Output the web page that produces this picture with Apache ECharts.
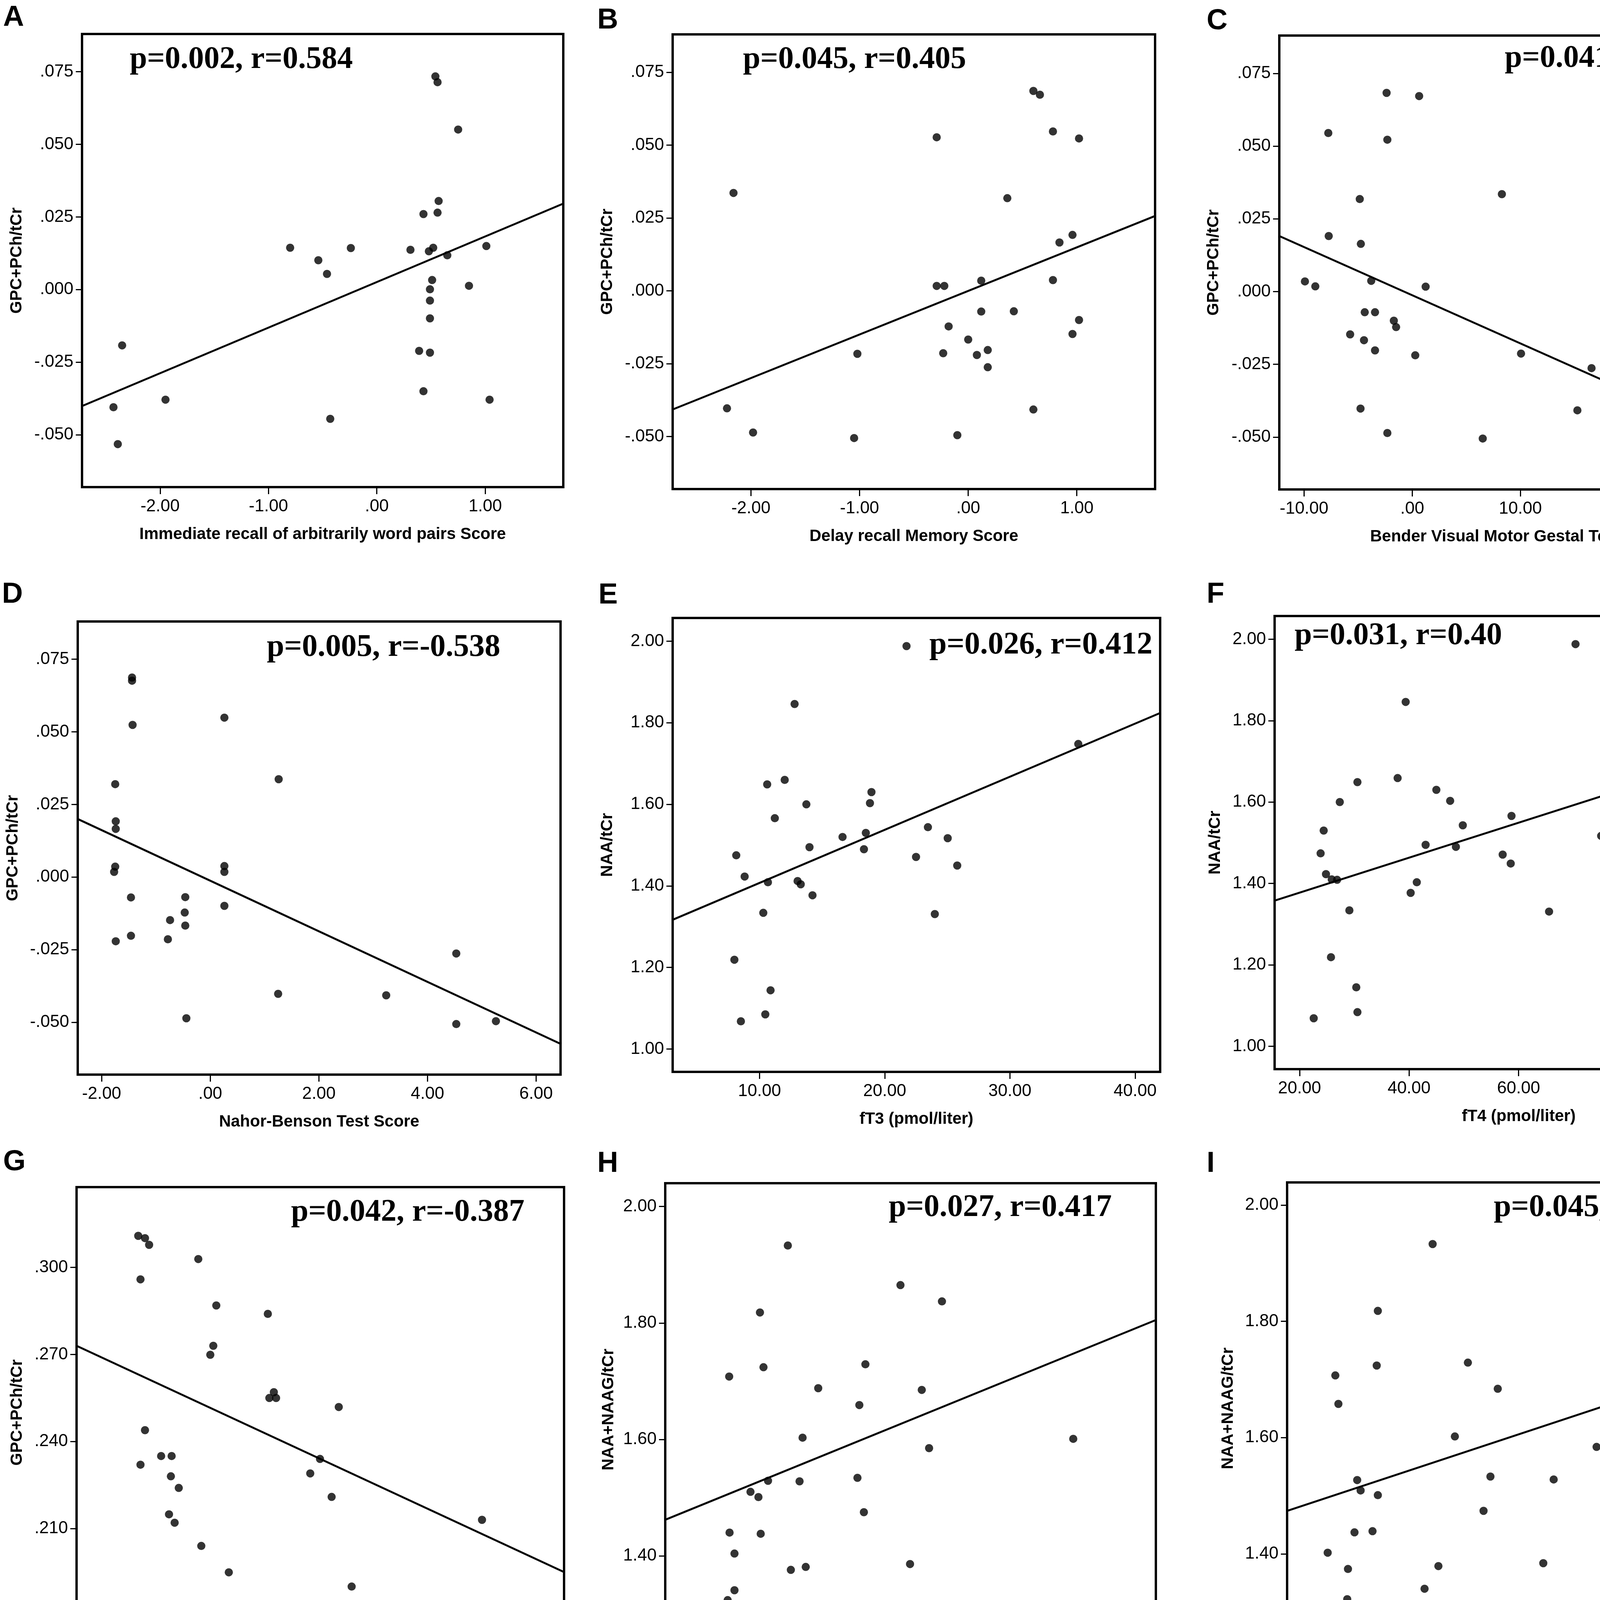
<!DOCTYPE html>
<html>
<head>
<meta charset="utf-8">
<script src="https://cdn.jsdelivr.net/npm/echarts@6/dist/echarts.min.js"></script>
<style>html,body{margin:0;padding:0;background:#fff;}#c{width:4550px;height:4368px;}</style>
</head>
<body>
<div id="c"></div>
<script>
// ---------------- DATA ----------------
const ptsA = [[0.54,0.0734],[0.56,0.0714],[0.75,0.0551],[0.57,0.0305],[0.43,0.0260],[0.56,0.0265],
[-0.80,0.0144],[-0.54,0.0101],[-0.46,0.0054],[-0.24,0.0143],[0.31,0.0137],[0.48,0.0132],
[0.52,0.0144],[0.65,0.0118],[1.01,0.0150],[0.51,0.0033],[0.49,0.0001],[0.49,-0.0038],
[0.49,-0.0099],[0.85,0.0013],[0.39,-0.0211],[0.49,-0.0217],[0.43,-0.0350],[1.04,-0.0379],
[-2.35,-0.0192],[-2.43,-0.0405],[-1.95,-0.0379],[-2.39,-0.0532],[-0.43,-0.0445]];
const fitA = [[-2.72,-0.0401],[1.72,0.0296]];

const ptsB = [[0.60,0.0686],[0.66,0.0673],[-0.29,0.0527],[0.78,0.0547],[1.02,0.0523],[-2.16,0.0336],
[0.36,0.0318],[0.96,0.0192],[0.84,0.0166],[-0.29,0.0017],[-0.22,0.0017],[0.12,0.0035],[0.78,0.0037],
[0.12,-0.0071],[0.42,-0.0070],[1.02,-0.0100],[-0.18,-0.0122],[0.96,-0.0148],[0.00,-0.0167],
[0.18,-0.0203],[-1.02,-0.0216],[-0.23,-0.0214],[0.08,-0.0220],[0.18,-0.0262],[-2.22,-0.0403],
[0.60,-0.0407],[-1.98,-0.0486],[-1.05,-0.0505],[-0.10,-0.0495]];
const fitB = [[-2.72,-0.0407],[1.72,0.0257]];

const ptsC = [[-2.37,0.0683],[0.64,0.0672],[-7.76,0.0545],[-2.30,0.0522],[-4.85,0.0318],[8.29,0.0335],
[-7.72,0.0191],[-4.75,0.0164],[-9.92,0.0035],[-8.96,0.0018],[-3.79,0.0037],[1.24,0.0017],
[-4.39,-0.0071],[-3.44,-0.0071],[-1.70,-0.0100],[-1.49,-0.0122],[-5.74,-0.0147],[-4.46,-0.0167],
[-3.44,-0.0202],[0.28,-0.0219],[10.06,-0.0213],[16.58,-0.0263],[-4.78,-0.0402],[15.27,-0.0408],
[-2.30,-0.0486],[6.52,-0.0505],[24.30,-0.0495]];
const fitC = [[-12.29,0.0191],[32.35,-0.0548]];

const ptsD = [[-1.44,0.0687],[-1.44,0.0676],[-1.43,0.0524],[0.26,0.0549],[-1.75,0.0320],[1.26,0.0337],
[-1.74,0.0192],[-1.74,0.0166],[-1.75,0.0036],[-1.77,0.0018],[0.26,0.0038],[0.26,0.0018],
[-1.46,-0.0070],[-0.46,-0.0069],[0.26,-0.0099],[-0.47,-0.0122],[-0.74,-0.0148],[-0.46,-0.0167],
[-1.46,-0.0202],[-0.78,-0.0214],[-1.74,-0.0221],[4.53,-0.0263],[1.25,-0.0402],[3.24,-0.0407],
[-0.44,-0.0486],[4.53,-0.0506],[5.26,-0.0496]];
const fitD = [[-2.44,0.0200],[6.45,-0.0574]];

const ptsE = [[21.74,1.988],[12.80,1.846],[35.46,1.748],[10.61,1.649],[12.01,1.660],[18.94,1.630],
[13.74,1.600],[18.82,1.603],[11.22,1.566],[16.63,1.520],[18.49,1.530],[23.45,1.544],[25.03,1.517],
[13.99,1.495],[18.34,1.490],[22.50,1.471],[25.79,1.450],[8.14,1.475],[8.81,1.423],[10.67,1.409],
[13.04,1.412],[13.29,1.404],[14.23,1.377],[10.30,1.334],[24.00,1.331],[7.99,1.219],[10.88,1.144],
[10.46,1.085],[8.51,1.068]];
const fitE = [[3.06,1.317],[42.0,1.824]];

const ptsF = [[70.39,1.988],[39.38,1.846],[84.38,1.748],[37.91,1.659],[30.57,1.649],[44.98,1.630],
[27.35,1.600],[47.50,1.603],[58.70,1.566],[24.41,1.530],[49.81,1.543],[43.02,1.495],[48.55,1.490],
[75.07,1.517],[99.0,1.521],[23.85,1.474],[57.09,1.471],[58.56,1.449],[24.83,1.423],[25.88,1.410],
[26.86,1.409],[41.41,1.403],[40.29,1.377],[29.10,1.334],[65.56,1.331],[25.74,1.219],[30.36,1.145],
[30.57,1.084],[22.59,1.069]];
const fitF = [[15.45,1.358],[104.6,1.741]];

const ptsG = [[7.96,0.3109],[8.50,0.3101],[8.83,0.3078],[12.76,0.3029],[8.14,0.2959],[14.20,0.2869],
[18.32,0.2840],[13.96,0.2730],[13.72,0.2699],[18.80,0.2570],[18.44,0.2550],[18.98,0.2550],
[23.99,0.2519],[8.50,0.2439],[9.79,0.2350],[10.63,0.2350],[8.14,0.2320],[22.49,0.2340],
[10.57,0.2280],[21.71,0.2290],[11.20,0.2240],[23.42,0.2209],[10.42,0.2149],[10.87,0.2120],
[35.44,0.2130],[13.00,0.2040],[15.20,0.1949],[25.02,0.1900]];
const fitG = [[3.03,0.2730],[42.0,0.1950]];

const ptsH = [[12.78,1.933],[21.71,1.865],[25.00,1.837],[10.57,1.818],[8.13,1.708],[10.85,1.724],
[18.93,1.729],[15.19,1.688],[23.40,1.685],[18.45,1.659],[13.95,1.603],[35.41,1.601],[23.98,1.585],
[18.30,1.534],[11.21,1.529],[13.71,1.528],[9.82,1.510],[10.45,1.501],[18.81,1.475],[8.16,1.440],
[10.63,1.438],[8.55,1.404],[22.47,1.386],[14.20,1.381],[13.02,1.376],[8.55,1.341],[8.01,1.324],
[8.79,1.310]];
const fitH = [[3.06,1.462],[41.96,1.805]];

const ptsI = [[39.39,1.933],[70.34,1.865],[74.98,1.837],[30.64,1.818],[30.46,1.724],[23.85,1.707],
[45.02,1.729],[24.34,1.658],[49.79,1.684],[42.94,1.602],[84.40,1.600],[65.57,1.584],[48.62,1.533],
[58.72,1.528],[27.34,1.527],[27.89,1.509],[30.64,1.501],[47.52,1.474],[26.91,1.437],[29.79,1.439],
[22.63,1.402],[57.06,1.384],[40.31,1.379],[25.87,1.374],[38.10,1.340],[25.75,1.322],[24.89,1.308]];
const fitI = [[16.15,1.474],[93.94,1.751]];

// axis extents
const xRanges = [[-2.72,1.72],[-2.72,1.72],[-12.29,32.35],[-2.44,6.45],[3.06,42.0],[15.45,104.6],[3.03,42.0],[3.06,41.96],[16.15,93.94]];
const yRanges = [[-0.068,0.088],[-0.068,0.088],[-0.068,0.088],[-0.068,0.088],[0.944,2.057],[0.944,2.057],[0.1723,0.3277],[1.2625,2.040],[1.2615,2.039]];

// tick values
const ticksGPC = [-0.05,-0.025,0,0.025,0.05,0.075];
const ticksNAA = [1.0,1.2,1.4,1.6,1.8,2.0];
const ticksGPC2 = [0.18,0.21,0.24,0.27,0.30];
const ticksNAAG = [1.4,1.6,1.8,2.0];
const ticksScore = [-2,-1,0,1];
const ticksBender = [-10,0,10,20,30];
const ticksNahor = [-2,0,2,4,6];
const ticksFT3 = [10,20,30,40];
const ticksFT4 = [20,40,60,80,100];
const ticksFT4b = [20,40,60,80];

// text
const letters = ['A','B','C','D','E','F','G','H','I'];
const notes = ['p=0.002, r=0.584','p=0.045, r=0.405','p=0.041, r=-0.411','p=0.005, r=-0.538','p=0.026, r=0.412','p=0.031, r=0.40','p=0.042, r=-0.387','p=0.027, r=0.417','p=0.045, r=0.389'];
const xNames = ['Immediate recall of arbitrarily word pairs Score','Delay recall Memory Score','Bender Visual Motor Gestal Test Score','Nahor-Benson Test Score','fT3 (pmol/liter)','fT4 (pmol/liter)','fT3 (pmol/liter)','fT3 (pmol/liter)','fT4 (pmol/liter)'];
const yNames = ['GPC+PCh/tCr','GPC+PCh/tCr','GPC+PCh/tCr','GPC+PCh/tCr','NAA/tCr','NAA/tCr','GPC+PCh/tCr','NAA+NAAG/tCr','NAA+NAAG/tCr'];

const pts = [ptsA,ptsB,ptsC,ptsD,ptsE,ptsF,ptsG,ptsH,ptsI];
const fits = [fitA,fitB,fitC,fitD,fitE,fitF,fitG,fitH,fitI];
const xTicks = [ticksScore,ticksScore,ticksBender,ticksNahor,ticksFT3,ticksFT4,ticksFT3,ticksFT3,ticksFT4b];
const yTicks = [ticksGPC,ticksGPC,ticksGPC,ticksGPC,ticksNAA,ticksNAA,ticksGPC2,ticksNAAG,ticksNAAG];
const yDec = [3,3,3,3,2,2,3,2,2];

// ---------------- LAYOUT (pixels) ----------------
const boxes = [ // [left, right, top, bottom]
 [210,1442,87,1247],[1722,2957,88,1252],[3275,4511,91,1253],
 [199,1435,1591,2751],[1722,2970,1582,2744],[3263,4513,1577,2737],
 [196,1444,3039,4193],[1703,2959,3029,4188],[3295,4542,3027,4184]];
const letterPos = [[8,9],[1529,16],[3089,18],[5,1486],[1532,1488],[3089,1486],[8,2939],[1529,2943],[3089,2943]];
const notePos = [[332,153],[1902,153],[3852,150],[683,1658],[2379,1652],[3314,1628],[745,3104],[2275,3092],[3824,3092]];
const yNameGap = [146,146,147,145,146,131,131,124,130];
const xNameGap = [100,100,100,100,100,100,108,100,100];

function fmt(d){ return function(v){ let s = Number(v).toFixed(d); if (/^-?0\.0*$/.test(s)) s = s.replace('-',''); return s.replace(/^(-?)0\./,'$1.'); }; }

const SANS = '"Liberation Sans", Arial, sans-serif';
const SERIF = '"Liberation Serif", "Times New Roman", serif';

const grid=[], xAxis=[], yAxis=[], series=[], graphic=[];
for (let i=0;i<9;i++){
  const b = boxes[i];
  grid.push({left:b[0], top:b[2], width:b[1]-b[0], height:b[3]-b[2], show:true, borderColor:'#000', borderWidth:6, backgroundColor:'#fff', containLabel:false});
  xAxis.push({type:'value', gridIndex:i, min:xRanges[i][0], max:xRanges[i][1],
    name:xNames[i], nameLocation:'middle', nameGap:xNameGap[i],
    nameTextStyle:{fontFamily:SANS, fontSize:42, fontWeight:'bold', color:'#000'},
    axisLine:{show:false, onZero:false}, splitLine:{show:false},
    axisTick:{show:true, length:18, lineStyle:{color:'#000', width:3}, customValues:xTicks[i]},
    axisLabel:{show:true, margin:28, fontFamily:SANS, fontSize:44, color:'#000', customValues:xTicks[i], formatter:fmt(2)}});
  yAxis.push({type:'value', gridIndex:i, min:yRanges[i][0], max:yRanges[i][1],
    name:yNames[i], nameLocation:'middle', nameGap:yNameGap[i],
    nameTextStyle:{fontFamily:SANS, fontSize:42, fontWeight:'bold', color:'#000'},
    axisLine:{show:false, onZero:false}, splitLine:{show:false},
    axisTick:{show:true, length:16, lineStyle:{color:'#000', width:3}, customValues:yTicks[i]},
    axisLabel:{show:true, margin:22, fontFamily:SANS, fontSize:44, color:'#000', customValues:yTicks[i], formatter:fmt(yDec[i])}});
  series.push({type:'line', xAxisIndex:i, yAxisIndex:i, data:fits[i], showSymbol:false, symbol:'none', clip:true,
    lineStyle:{color:'#000', width:5}, silent:true, z:2});
  series.push({type:'scatter', xAxisIndex:i, yAxisIndex:i, data:pts[i], symbol:'circle', symbolSize:21,
    itemStyle:{color:'#000'}, silent:true, z:3});
  graphic.push({type:'text', x:letterPos[i][0], y:letterPos[i][1], z:10,
    style:{text:letters[i], font:'bold 74px '+SANS, fill:'#000', verticalAlign:'top', align:'left'}});
  graphic.push({type:'text', x:notePos[i][0], y:notePos[i][1], z:10,
    style:{text:notes[i], font:'bold 80px '+SERIF, fill:'#000', verticalAlign:'middle', align:'left'}});
}

const chart = echarts.init(document.getElementById('c'), null, {renderer:'canvas', width:4550, height:4368});
chart.setOption({backgroundColor:'#fff', animation:false, grid, xAxis, yAxis, series, graphic});
</script>
</body>
</html>
